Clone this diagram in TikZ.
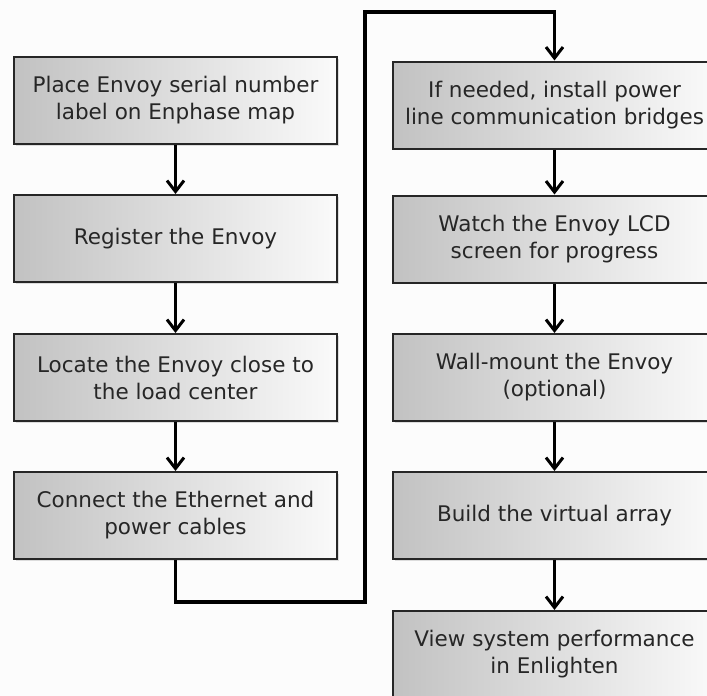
\documentclass[tikz,border=0pt]{standalone}
\usepackage{fontspec}
\setmainfont{DejaVu Sans}
\usetikzlibrary{arrows.meta,shadows}
\begin{document}
\begin{tikzpicture}[x=1pt,y=-1pt,
  stepbox/.style={draw=black!85, line width=2pt, minimum width=323pt, minimum height=87pt,
    left color=black!24, right color=black!2, align=center,
    font=\fontsize{21.5}{27}\selectfont, text=black!85, inner sep=0pt,
    drop shadow={shadow xshift=1.5pt, shadow yshift=-1.5pt, opacity=0.25}},
  conn/.style={line width=3.5pt, line join=miter, -{Straight Barb[length=11pt,width=17pt,line width=3pt]}}]
\useasboundingbox (0,0) rectangle (707,696);
\clip (0,0) rectangle (707,696);
\fill[black!1] (0,0) rectangle (707,696);

\node[stepbox] (b1) at (175.5,100.5) {Place Envoy serial number\\label on Enphase map};
\node[stepbox] (b2) at (175.5,238.5) {Register the Envoy};
\node[stepbox] (b3) at (175.5,377.5) {Locate the Envoy close to\\the load center};
\node[stepbox] (b4) at (175.5,515.5) {Connect the Ethernet and\\power cables};

\node[stepbox] (r1) at (554.5,105) {If needed, install power\\line communication bridges};
\node[stepbox] (r2) at (554.5,239) {Watch the Envoy LCD\\screen for progress};
\node[stepbox] (r3) at (554.5,377.5) {Wall-mount the Envoy\\(optional)};
\node[stepbox] (r4) at (554.5,515.5) {Build the virtual array};
\node[stepbox] (r5) at (554.5,654.5) {View system performance\\in Enlighten};

\coordinate (c1) at (365,602);
\coordinate (c2) at (365,12);

\draw[conn] (b1) -- (b2);
\draw[conn] (b2) -- (b3);
\draw[conn] (b3) -- (b4);
\draw[conn] (b4.south) |- (c1) -- (c2) -| (r1.north);
\draw[conn] (r1) -- (r2);
\draw[conn] (r2) -- (r3);
\draw[conn] (r3) -- (r4);
\draw[conn] (r4) -- (r5);
\end{tikzpicture}
\end{document}
